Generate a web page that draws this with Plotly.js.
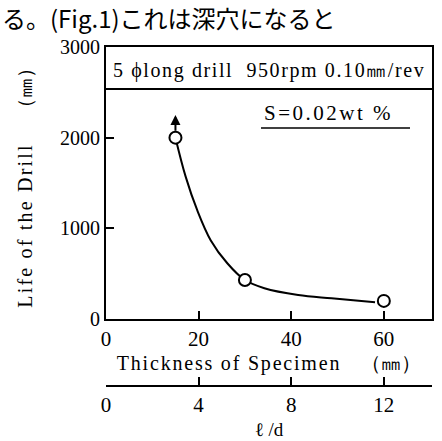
<!DOCTYPE html>
<html>
<head>
<meta charset="utf-8">
<script src="https://cdn.plot.ly/plotly-3.0.1.min.js"></script>
<style>html,body{margin:0;padding:0;background:#fff;}</style>
</head>
<body>
<div id="chart" style="width:442px;height:441px;"></div>
<script>
// measured points: thickness of specimen (mm) vs life of drill (mm)
var thickness = [15, 30, 60];
var life = [2000, 430, 200];
// l/d values of the same specimens (d = 5 mm)
var lOverD = [3, 6, 12];
// hand-drawn fitted curve
var curveX = [15, 17.2, 19.7, 22.6, 26.2, 30, 34.2, 41.5, 48.7, 58.1];
var curveY = [2000, 1570, 1200, 870, 615, 430, 340, 265, 228, 185];
// tick labels
var xTicks = [0, 20, 40, 60];
var ldTicks = [0, 4, 8, 12];
var yTicks = [0, 1000, 2000, 3000];

var serif = "'Liberation Serif', serif";
var cjk = "'Noto Sans CJK JP', sans-serif";

function spaced(t, px) { return '<span style="letter-spacing:' + px + 'px">' + t + '</span>'; }

var traces = [
  {x: curveX, y: curveY, mode: 'lines', line: {color: '#000', width: 2, shape: 'spline', smoothing: 1}, hoverinfo: 'skip', showlegend: false},
  {x: thickness, y: life, mode: 'markers', marker: {symbol: 'circle', size: 12, color: '#fff', line: {color: '#000', width: 2}}, showlegend: false},
  {x: lOverD, y: life, xaxis: 'x2', mode: 'none', hoverinfo: 'skip', showlegend: false}
];

var layout = {
  width: 442, height: 441,
  margin: {l: 106, r: 10, t: 47, b: 0},
  paper_bgcolor: '#fff', plot_bgcolor: '#fff',
  showlegend: false,
  font: {family: serif, color: '#000', size: 19},
  xaxis: {
    range: [0, 70.4], tickvals: xTicks, ticktext: xTicks.map(String),
    ticks: 'inside', ticklen: 8, tickwidth: 2, tickcolor: '#000',
    showline: true, linewidth: 2, linecolor: '#000', mirror: true,
    showgrid: false, zeroline: false,
    tickfont: {family: serif, size: 21},
    title: {text: spaced('Thickness of Specimen', 1.8) + '　（㎜）', font: {family: serif, size: 20}, standoff: 6}
  },
  xaxis2: {
    overlaying: 'x', anchor: 'free', position: 0.1396, side: 'bottom',
    range: [0, 14.08], tickvals: ldTicks, ticktext: ldTicks.map(String),
    ticks: 'inside', ticklen: 8, tickwidth: 2, tickcolor: '#000',
    showline: true, linewidth: 2, linecolor: '#000',
    showgrid: false, zeroline: false,
    tickfont: {family: serif, size: 21},
    title: {text: 'ℓ /d', font: {family: serif, size: 19}, standoff: 6}
  },
  yaxis: {
    domain: [0.3096, 1], range: [0, 3000], tickvals: yTicks, ticktext: yTicks.map(String),
    ticks: 'inside', ticklen: 8, tickwidth: 2, tickcolor: '#000',
    showline: true, linewidth: 2, linecolor: '#000', mirror: true,
    showgrid: false, zeroline: false,
    tickfont: {family: serif, size: 20},
    title: {text: spaced('Life of the Drill', 2.2) + '　 （㎜）', font: {family: serif, size: 20}, standoff: 22}
  },
  shapes: [
    {type: 'line', xref: 'x domain', yref: 'y domain', x0: 0, x1: 1, y0: 0.8456, y1: 0.8456, line: {color: '#000', width: 2}},
    {type: 'line', xref: 'x domain', yref: 'y domain', x0: 0.4755, x1: 0.9325, y0: 0.702, y1: 0.702, line: {color: '#000', width: 1.5}}
  ],
  annotations: [
    {xref: 'paper', yref: 'paper', x: -0.325, y: 1.0761, xanchor: 'left', yanchor: 'middle', showarrow: false,
     text: 'る。(Fig.1)これは深穴になると', font: {family: cjk, size: 24}},
    {xref: 'x domain', yref: 'y domain', x: 0.5, y: 0.915, xanchor: 'center', yanchor: 'middle', showarrow: false,
     text: spaced('5 ϕlong drill  950rpm 0.10㎜/rev', 1.6), font: {family: serif, size: 20}},
    {xref: 'x domain', yref: 'y domain', x: 0.4785, y: 0.757, xanchor: 'left', yanchor: 'middle', showarrow: false,
     text: spaced('S=0.02wt %', 2.5), font: {family: serif, size: 21}},
    {x: thickness[0], y: 2250, ax: thickness[0], ay: 2060, xref: 'x', yref: 'y', axref: 'x', ayref: 'y',
     showarrow: true, arrowhead: 2, arrowsize: 1, arrowwidth: 2, arrowcolor: '#000', text: ''}
  ]
};

Plotly.newPlot('chart', traces, layout, {displayModeBar: false, staticPlot: true});
</script>
</body>
</html>
